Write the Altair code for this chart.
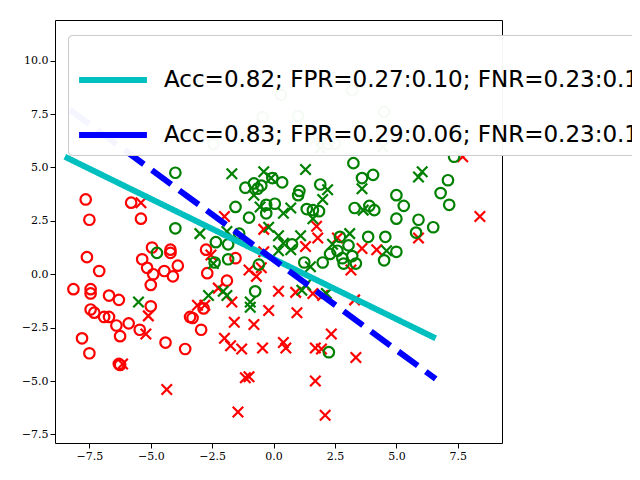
import altair as alt
import pandas as pd

red_o_x = [-8.15, -7.8, -7.65, -7.5, -7.6, -7.45, -7.45, -7.45, -7.5, -7.3, -7.1, -6.9, -6.7, -6.3, -6.4,
           -6.25, -5.9, -5.8, -5.4, -5.45, -5.35, -5.15, -5.0, -4.95, -4.9, -4.45, -4.2, -4.1, -3.9, -3.6,
           -3.3, -2.95, -2.85, -2.75, -2.7, -1.9, -1.55, -6.3, -6.7, -5.0, -4.4, -3.4, -6.25, -4.2]
red_o_y = [-0.7, -3.0, 3.5, 2.55, 0.8, -0.7, -0.9, -1.65, -3.7, -1.8, 0.15, -2.0, -2.0, -1.2, -2.4,
           -2.9, -2.3, 3.35, 2.6, -2.6, 0.7, 0.3, -0.5, 1.25, 0.0, 0.15, 1.15, -0.1, 0.4, -3.5,
           -2.05, -2.6, -1.6, 1.15, 0.05, -0.3, 0.75, -4.2, -1.0, -1.5, -3.2, -2.0, -4.25, 1.0]

red_x_x = [-5.4, -2.0, -0.4, -4.35, -1.45, -1.0, -1.15, -0.45, 0.4, 0.5, 1.7, 1.95, 1.7, 2.1, 3.35,
           3.3, 2.35, 2.0, 0.9, 1.6, 1.8, 1.3, 7.7, 8.4, 5.9, 3.15, 3.6, -0.5, -1.7, -1.6, -2.0,
           -1.75, -1.3, -3.1, -2.8, -2.25, -6.15, -5.2, -5.1, -2.55, -0.4, 0.2, -0.2, -0.8, 0.95,
           1.75, -1.0, -0.7, 4.2, 2.6]
red_x_y = [3.35, 2.7, 1.05, -5.4, -6.45, -4.8, -4.85, -3.45, -3.2, -3.45, -5.0, -3.5, -3.45, -6.6, -3.9,
           -1.2, -2.8, -1.0, -0.85, -0.9, 1.7, 1.3, 5.5, 2.7, 1.7, 0.2, 1.2, 0.3, -1.3, -2.25, -3.0,
           -3.35, -3.5, -1.45, -1.45, -0.65, -4.2, -2.8, -1.95, 0.9, 2.1, -0.8, -1.7, -2.35, -1.8,
           2.25, 0.2, -0.1, 1.15, 1.7]

green_o_x = [-2.45, -4.0, -0.45, 1.0, 3.2, 4.5, 0.3, 2.5, 2.2, 3.25, 3.6, 4.05, 3.9, 4.1, 5.0, 5.3,
             5.0, 5.9, 5.8, 6.5, 6.8, 7.1, 7.15, 7.35, 5.0, 4.55, 4.5, 3.85, 3.3, 3.05, 2.8, 2.85,
             3.2, 3.35, 2.3, 2.7, 2.0, 1.25, 1.9, 1.35, 1.85, 1.05, 1.0, 0.35, -0.05, -0.5, -0.3,
             0.05, -0.3, -1.15, -0.8, -0.65, -1.55, -1.0, -1.4, -2.35, -0.75, -4.0, -4.75, -2.4,
             -1.85, -1.85, -0.6, 2.25, 0.75, 1.6, 2.6]
green_o_y = [6.1, 4.75, 7.35, 7.4, 8.6, 7.6, 8.4, 6.1, 6.1, 5.2, 4.5, 4.65, 3.2, 3.0, 3.7, 3.2,
             2.6, 2.55, 1.95, 2.2, 3.8, 4.4, 3.25, 5.5, 1.05, 1.75, 0.65, 1.75, 3.1, 1.35, 0.75, 0.5,
             0.85, 0.5, 0.95, 1.75, 0.55, 0.55, 4.2, 3.05, 2.95, 3.9, 3.7, 4.3, 4.5, 4.15, 3.25,
             3.3, 2.85, 4.05, 4.25, 4.0, 3.15, 2.65, 1.9, 1.5, -0.8, 2.15, 1.0, 0.55,
             0.7, 1.4, 0.45, -3.65, 1.4, 3.0, 1.1]

green_x_x = [-5.5, -3.0, -1.7, -0.4, -0.8, -0.2, 0.2, 0.4, 0.7, 1.7, 1.9, 4.45, 3.6, 3.65, 1.3,
             2.0, 2.2, 0.7, 1.1, 3.1, 4.6, 5.9, 6.05, -0.95, -2.05, -1.9, -0.95, -2.45, -2.65,
             1.15, 1.3, 2.15, -1.9, -0.55, 0.2, 0.4, 1.5, -0.1, 2.4, 1.6]
green_x_y = [-1.3, 1.9, 4.7, 4.8, 3.7, 2.2, 1.8, 1.45, 3.1, 6.3, 5.9, 5.95, 4.0, 3.0, 4.9,
             3.5, 3.95, 1.15, 1.8, 1.9, 1.1, 4.55, 4.8, -1.55, -0.8, -1.0, -1.3, 0.5, -1.0,
             -0.75, -0.5, -0.9, 2.0, 3.15, 1.1, 2.85, 0.35, 4.5, 1.4, 2.6]

line_names = ["Acc=0.82; FPR=0.27:0.10; FNR=0.23:0.12", "Acc=0.83; FPR=0.29:0.06; FNR=0.23:0.12"]
line_x = [[-8.5, 6.6], [-8.3, 6.6]]
line_y = [[5.5, -3.0], [7.7, -4.9]]

pts = []
for xs, ys, c, s in [(red_o_x, red_o_y, "r", "o"), (red_x_x, red_x_y, "r", "x"),
                     (green_o_x, green_o_y, "g", "o"), (green_x_x, green_x_y, "g", "x")]:
    for a, b in zip(xs, ys):
        pts.append({"x": a, "y": b, "c": c, "s": s})
pts = pd.DataFrame(pts)

lines = pd.DataFrame([{"x": x, "y": y, "series": n}
                      for n, xs, ys in zip(line_names, line_x, line_y) for x, y in zip(xs, ys)])

xsc = alt.Scale(domain=[-8.9, 9.3], nice=False, zero=False)
ysc = alt.Scale(domain=[-7.9, 11.9], nice=False, zero=False)
xax = alt.Axis(values=[-7.5, -5, -2.5, 0, 2.5, 5, 7.5], format=".1f", grid=False, title=None,
               labelFont="DejaVu Serif", labelFontSize=11, labelColor="black", tickColor="black",
               domain=False)
yax = alt.Axis(values=[-7.5, -5, -2.5, 0, 2.5, 5, 7.5, 10], format=".1f", grid=False, title=None,
               labelFont="DejaVu Serif", labelFontSize=11, labelColor="black", tickColor="black",
               domain=False)

xpath = "M-1,-1L1,1M1,-1L-1,1"
scatter = alt.Chart(pts).mark_point(filled=False, strokeWidth=2.2, size=110, opacity=1).encode(
    x=alt.X("x:Q", scale=xsc, axis=xax),
    y=alt.Y("y:Q", scale=ysc, axis=yax),
    color=alt.Color("c:N", scale=alt.Scale(domain=["r", "g"], range=["#ff0000", "#008000"]), legend=None),
    shape=alt.Shape("s:N", scale=alt.Scale(domain=["o", "x"], range=["circle", xpath]), legend=None),
)

leg = alt.Legend(title=None, orient="none", legendX=13, legendY=15, labelFontSize=23,
                 labelFont="DejaVu Sans", labelLimit=1000, symbolType="stroke", symbolSize=4600,
                 symbolStrokeWidth=6, fillColor="rgba(255,255,255,0.8)", strokeColor="#cccccc",
                 padding=8, rowPadding=6, labelOffset=14, cornerRadius=4)
line = alt.Chart(lines).mark_line(strokeWidth=6, clip=True).encode(
    x=alt.X("x:Q", scale=xsc),
    y=alt.Y("y:Q", scale=ysc),
    color=alt.Color("series:N", scale=alt.Scale(domain=line_names, range=["#00bfbf", "#0000ff"]), legend=leg),
    strokeDash=alt.StrokeDash("series:N", scale=alt.Scale(domain=line_names, range=[[1, 0], [24, 10]]), legend=leg),
)

chart = alt.layer(scatter, line).resolve_scale(color="independent").properties(
    width=447, height=423, autosize=alt.AutoSizeParams(type="none"),
    padding={"left": 47, "top": 12, "right": 130, "bottom": 29},
).configure_view(stroke="black", strokeWidth=1)

chart.save("out.html", embed_options={"renderer": "svg", "actions": False})
